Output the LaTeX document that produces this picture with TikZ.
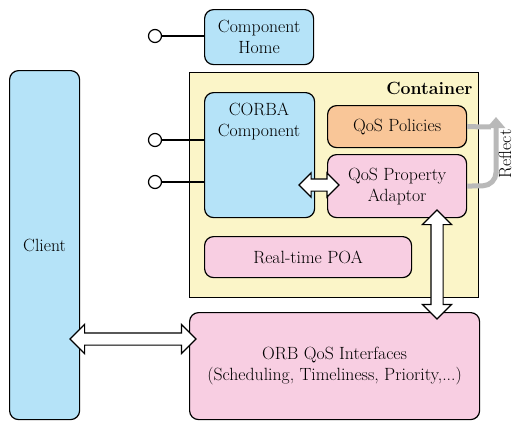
\documentclass[tikz,border=0pt]{standalone}
\usetikzlibrary{shapes.arrows,arrows.meta}

\definecolor{compblue}{HTML}{B5E3F8}
\definecolor{contyellow}{HTML}{FBF5C8}
\definecolor{qospink}{HTML}{F8CEE2}
\definecolor{qosorange}{HTML}{F9C698}
\definecolor{reflgray}{HTML}{B9B9B9}

\begin{document}
\begin{tikzpicture}[x=1pt,y=-1pt,
    font=\fontsize{17.7}{21}\selectfont,
    box/.style={draw, line width=1.2, rounded corners=9, align=center, inner sep=0, anchor=north west},
    port/.style={circle, draw, fill=white, line width=1.2, minimum size=13, inner sep=0},
    fatarrow/.style={double arrow, draw, fill=white, line width=1.2, inner xsep=0, inner ysep=5.5,
        double arrow head extend=8.5},
    reflect/.style={draw=reflgray, line width=5}]
    \useasboundingbox (0,0) rectangle (515,421);

    % client and the container
    \node[box, fill=compblue, minimum width=70, minimum height=349] (client) at (9,70) {Client};
    \node[box, sharp corners, fill=contyellow, minimum width=289, minimum height=225] (container) at (189,72) {};
    \node[font=\fontsize{17.7}{21}\selectfont\bfseries, anchor=east] (contlabel) at (476,88) {Container};

    \node[box, fill=compblue, minimum width=110, minimum height=125] (corba) at (204,92) {};
    \node[align=center] (corbatext) at (259,121) {CORBA\\Component};
    \node[box, fill=qosorange, minimum width=139, minimum height=42] (policies) at (327,105) {QoS Policies};
    \node[box, fill=qospink, minimum width=139, minimum height=63] (adaptor) at (327,154) {QoS Property\\Adaptor};
    \node[box, fill=qospink, minimum width=207, minimum height=41] (poa) at (204,236) {Real-time POA};

    \node[box, fill=compblue, minimum width=109, minimum height=55] (home) at (204,9) {Component\\Home};
    \node[box, fill=qospink, minimum width=290, minimum height=107] (orb) at (189,312)
        {ORB QoS Interfaces\\(Scheduling, Timeliness, Priority,...)};

    % ports
    \node[port] (homeport) at (155,36) {};
    \node[port] (facet) at (155,140) {};
    \node[port] (receptacle) at (155,182) {};
    \draw[line width=1.2] (homeport) -- (home.west |- homeport);
    \draw[line width=1.2] (facet) -- (corba.west |- facet);
    \draw[line width=1.2] (receptacle) -- (corba.west |- receptacle);

    % reflect loop
    \draw[reflect] (policies.east) -- (491,127);
    \draw[reflect, rounded corners=13, -{Triangle[length=11,width=18]}] (adaptor.east) -- (496,185.5) -- (496,117);
    \node[rotate=90] (reflecttext) at (505,154) {Reflect};

    % fat arrows
    \node[fatarrow, minimum height=126] (clientorb) at (133,339) {};
    \node[fatarrow, rotate=90, minimum height=109] (adaptororb) at (437,264.5) {};
    \node[fatarrow, minimum height=40, double arrow head extend=6] (corbaadaptor) at (319,185) {};
\end{tikzpicture}
\end{document}
